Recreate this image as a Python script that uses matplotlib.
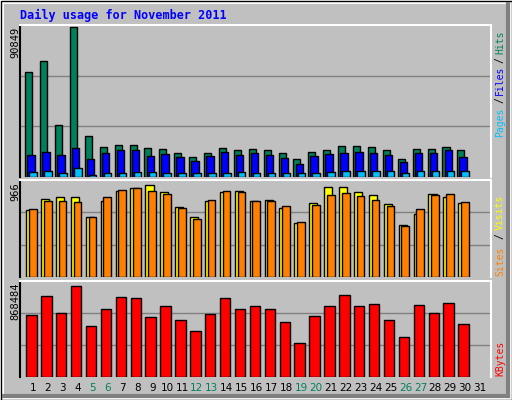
import matplotlib
matplotlib.use('Agg')
import matplotlib.pyplot as plt
from matplotlib import patches
import numpy as np

days = list(range(1, 32))
weekend_days = [5, 6, 12, 13, 19, 20, 26, 27]

# values (day 31 has no data)
hits = [63300, 70000, 31300, 90800, 24500, 18400, 19600, 19600, 17800, 17200,
        14700, 12300, 14700, 17800, 16600, 17200, 16600, 14700, 11000, 15300,
        16600, 19000, 19000, 18400, 16000, 11000, 17200, 17200, 18400, 16000]
files = [13500, 15300, 13500, 17800, 11000, 14700, 16000, 16600, 12900, 14100,
         12300, 9800, 12900, 15300, 13500, 14700, 13500, 11700, 8000, 12900,
         14100, 14700, 15300, 14700, 13500, 9200, 14700, 14700, 16000, 12300]
pages = [3100, 3700, 2500, 5500, 1500, 2500, 2500, 3100, 3100, 2500,
         2500, 2500, 2500, 2500, 3100, 2500, 2500, 2500, 2500, 2500,
         3100, 3700, 3700, 3700, 3700, 2500, 3700, 3700, 3700, 3700]
visits = [674, 784, 805, 805, 604, 765, 869, 896, 926, 855,
          704, 604, 765, 859, 865, 765, 775, 694, 543, 745,
          909, 909, 855, 825, 734, 523, 634, 835, 805, 745]
sites = [684, 765, 765, 755, 604, 805, 875, 896, 865, 835,
         694, 584, 775, 865, 855, 765, 765, 714, 553, 724,
         825, 845, 815, 775, 714, 513, 684, 825, 835, 755]
kbytes = [592000, 772000, 611000, 868000, 488000, 656000, 763000, 754000, 573000, 678000,
          545000, 440000, 602000, 754000, 656000, 678000, 656000, 532000, 326000, 583000,
          678000, 791000, 678000, 697000, 545000, 383000, 687000, 611000, 706000, 507000]
max_hits = 90849
max_visits = 966
max_kbytes = 868484

W, H = 512, 400
BG = '#c0c0c0'
fig = plt.figure(figsize=(W / 100, H / 100), dpi=100)
fig.patch.set_facecolor('white')

def fx(px):
    return px / W

def fy(py):
    return 1 - py / H

# grey bevelled frame
frame = fig.add_axes([0, 0, 1, 1])
frame.set_xlim(0, W)
frame.set_ylim(H, 0)
frame.axis('off')
frame.add_patch(patches.Rectangle((0.5, 0.5), W - 1, H - 1, facecolor='white', edgecolor='black', lw=1))
frame.add_patch(patches.Rectangle((4, 4), W - 8, H - 8, facecolor=BG, edgecolor='none'))
frame.plot([4, W - 4], [H - 4, H - 4], color='#808080', lw=3)
frame.plot([W - 4, W - 4], [4, H - 4], color='#808080', lw=3)
frame.text(20, 15, 'Daily usage for November 2011', color='#0000ff', fontsize=8.5,
           fontweight='bold', family='DejaVu Sans Mono', va='center', ha='left')

x = np.array(days[:30])
xlim = (0.13, 31.74)


def make_panel(top, bottom, ymax, label):
    ax = fig.add_axes([fx(20), fy(bottom), fx(491 - 20), (bottom - top) / H])
    ax.set_facecolor(BG)
    ax.set_xlim(*xlim)
    ax.set_ylim(0, ymax)
    for s in ax.spines.values():
        s.set_visible(False)
    ax.spines['top'].set_visible(True)
    ax.spines['top'].set_color('white')
    ax.spines['top'].set_linewidth(1.5)
    ax.spines['left'].set_visible(True)
    ax.spines['left'].set_color('black')
    ax.spines['left'].set_linewidth(1.5)
    ax.spines['right'].set_visible(True)
    ax.spines['right'].set_color('white')
    ax.spines['right'].set_linewidth(1.5)
    for g in (ymax / 3, ymax * 2 / 3):
        ax.axhline(g, color='#808080', lw=1, zorder=0)
    ax.set_xticks([])
    ax.set_yticks([])
    frame.text(15, top + 2, label, rotation=90, fontsize=7.5, family='DejaVu Sans Mono',
               ha='center', va='top')
    return ax


ax1 = make_panel(25, 177, max_hits * 1.01, '90849')
ax1.bar(x - 0.28, hits, width=0.47, color='#00805c', edgecolor='black', lw=1, align='center')
ax1.bar(x - 0.13, files, width=0.5, color='#0000ff', edgecolor='black', lw=1)
ax1.bar(x + 0.01, pages, width=0.5, color='#00c0ff', edgecolor='black', lw=1)

ax2 = make_panel(180, 277, max_visits * 1.01, '966')
ax2.bar(x - 0.18, visits, width=0.55, color='#ffff00', edgecolor='black', lw=1)
ax2.bar(x - 0.01, sites, width=0.52, color='#ff8000', edgecolor='black', lw=1)

ax3 = make_panel(281, 377, max_kbytes * 1.06, '868484')
ax3.bar(x - 0.1, kbytes, width=0.7, color='#ff0000', edgecolor='black', lw=1)

# day labels
for d in days:
    px = 33 + (d - 1) * 14.9
    col = '#00805c' if d in weekend_days else 'black'
    frame.text(px, 388, str(d), color=col, fontsize=7.5, ha='center', va='center')

# right side legends
def vlabel(y, txt, col):
    frame.text(500, y, txt, rotation=90, color=col, fontsize=7, family='DejaVu Sans Mono',
               ha='center', va='center')

vlabel(42, 'Hits', '#00805c')
vlabel(60, '/', 'black')
vlabel(80, 'Files', '#0000ff')
vlabel(100, '/', 'black')
vlabel(122, 'Pages', '#00c0ff')
vlabel(212, 'Visits', '#ffff00')
vlabel(236, '/', 'black')
vlabel(261, 'Sites', '#ff8000')
vlabel(358, 'KBytes', '#ff0000')

fig.savefig('out.png', dpi=100, facecolor='white')
